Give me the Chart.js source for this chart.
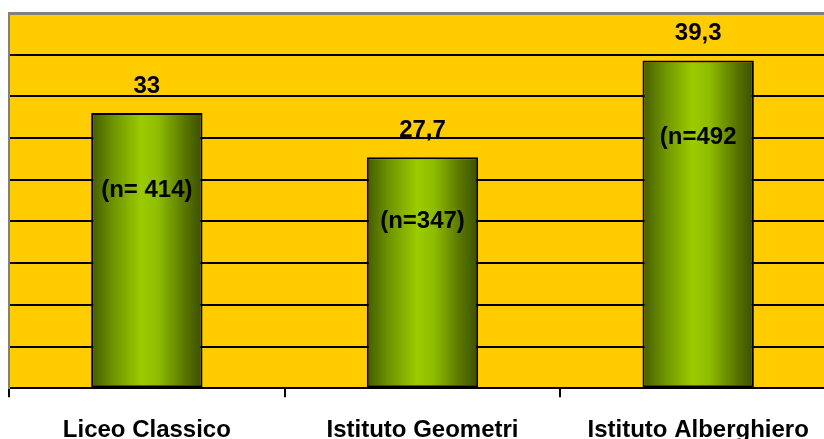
<!DOCTYPE html>
<html>
<head>
<meta charset="utf-8">
<script src="https://cdn.jsdelivr.net/npm/chart.js@4"></script>
<style>
    html, body { margin: 0; padding: 0; background: #ffffff; overflow: hidden; }
    #wrap { width: 836px; height: 466px; }
</style>
</head>
<body>
<div id="wrap"><canvas id="myChart" width="836" height="466"></canvas></div>
<script>
// Dati del grafico
const categories = ['Liceo Classico', 'Istituto Geometri', 'Istituto Alberghiero'];
const values = [33, 27.7, 39.3];
const sampleLabels = ['(n= 414)', '(n=347)', '(n=492'];

// stile
const nOffsets = [77, 64, 77];
const labelFont = 'bold 24px "Liberation Sans", Arial, sans-serif';

const barGradient = (context) => {
    const chart = context.chart;
    const xScale = chart.scales.x;
    if (!xScale || !chart.chartArea) {
        return '#99cc00';
    }
    const center = xScale.getPixelForValue(context.dataIndex);
    const half = (xScale.width / categories.length) * 0.404 / 2;
    const g = chart.ctx.createLinearGradient(center - half, 0, center + half, 0);
    g.addColorStop(0, '#435c00');
    g.addColorStop(0.2, '#6f9400');
    g.addColorStop(0.45, '#9acc00');
    g.addColorStop(0.6, '#8fbd00');
    g.addColorStop(0.85, '#577300');
    g.addColorStop(1, '#3a5000');
    return g;
};

// sfondo giallo dell'area del grafico
const plotBackground = {
    id: 'plotBackground',
    beforeDraw(chart) {
        const { ctx, chartArea } = chart;
        ctx.save();
        ctx.fillStyle = '#ffcc00';
        ctx.fillRect(chartArea.left, chartArea.top, chartArea.right - chartArea.left, chartArea.bottom - chartArea.top);
        ctx.restore();
    }
};

// etichette valori e numerosità
const barLabels = {
    id: 'barLabels',
    afterDatasetsDraw(chart) {
        const ctx = chart.ctx;
        const meta = chart.getDatasetMeta(0);
        ctx.save();
        ctx.font = labelFont;
        ctx.fillStyle = '#000000';
        ctx.textAlign = 'center';
        ctx.textBaseline = 'middle';
        meta.data.forEach((bar, i) => {
            ctx.fillText(String(values[i]).replace('.', ','), bar.x, bar.y - 27);
            ctx.fillText(sampleLabels[i], bar.x, bar.y + nOffsets[i]);
        });
        ctx.restore();
    }
};

const ctx = document.querySelector('#myChart');
const myChart = new Chart(ctx, {
    type: 'bar',
    data: {
        labels: categories,
        datasets: [
            {
                data: values,
                backgroundColor: barGradient,
                borderColor: '#000000',
                borderWidth: 2,
                borderSkipped: false,
                categoryPercentage: 1,
                barPercentage: 0.404,
            },
        ],
    },
    options: {
        responsive: false,
        animation: false,
        layout: {
            padding: { left: 9, top: 13, right: 0, bottom: 2 }
        },
        scales: {
            x: {
                grid: {
                    offset: true,
                    drawOnChartArea: false,
                    drawTicks: true,
                    tickLength: 9,
                    color: '#000000',
                    lineWidth: 2,
                },
                border: {
                    color: '#000000',
                    width: 2,
                },
                ticks: {
                    color: '#000000',
                    padding: 19,
                    font: {
                        family: '"Liberation Sans", Arial, sans-serif',
                        size: 24,
                        weight: 'bold',
                    },
                },
            },
            y: {
                min: 0,
                max: 45,
                ticks: {
                    display: false,
                    stepSize: 5,
                },
                grid: {
                    drawTicks: false,
                    color: (c) => (c.tick && c.tick.value === 45 ? '#808080' : '#000000'),
                    lineWidth: (c) => (c.tick && c.tick.value === 45 ? 3 : 2),
                },
                border: {
                    color: '#808080',
                    width: 2,
                },
            },
        },
        plugins: {
            legend: { display: false },
            tooltip: { enabled: false },
        },
    },
    plugins: [plotBackground, barLabels],
});
</script>
</body>
</html>
